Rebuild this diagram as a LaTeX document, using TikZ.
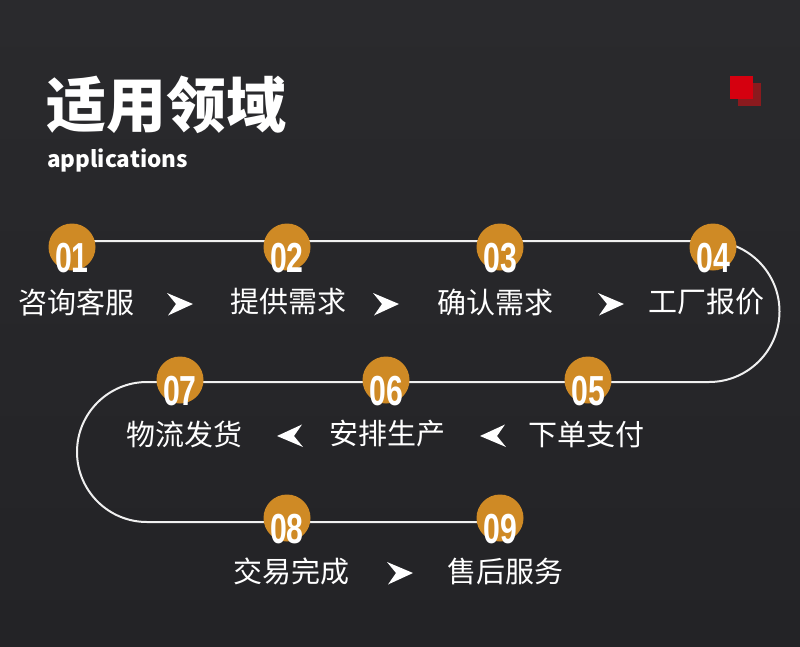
\documentclass[tikz,border=0pt]{standalone}
\usepackage{fontspec}
\newfontfamily\cjk{Noto Sans CJK SC}
\newfontfamily\numfont{Liberation Sans}[FakeStretch=0.72]
\usetikzlibrary{positioning}
\definecolor{bgtop}{HTML}{2A2A2D}
\definecolor{bgbot}{HTML}{232326}
\definecolor{stepgold}{HTML}{CF8A25}
\definecolor{markred}{HTML}{D5000F}
\definecolor{markdark}{HTML}{8A1A1E}
\tikzset{
  track/.style={draw=white!94!black, line width=2pt},
  dot/.style={circle, fill=stepgold, minimum size=47pt, inner sep=0pt},
  num/.style={font=\numfont\bfseries\fontsize{42}{42}\selectfont, text=white, inner sep=0pt},
  lbl/.style={font=\cjk\fontsize{29}{29}\selectfont, text=white, inner sep=0pt},
  pics/dart/.style={code={\fill[white] (13,0) -- (-13,-11) -- (-4,0) -- (-12,11.5) -- cycle;}},
}
\begin{document}
\begin{tikzpicture}[x=1pt, y=-1pt]
  \shade[top color=bgtop, bottom color=bgbot] (0,0) rectangle (800,646);
  \useasboundingbox (0,0) rectangle (800,646);
  % heading
  \node[anchor=west, inner sep=0pt, text=white, font=\cjk\bfseries\fontsize{60}{60}\selectfont] (title) at (46,105) {适用领域};
  \node[anchor=west, inner sep=0pt, text=white, font=\cjk\bfseries\fontsize{22.5}{22.5}\selectfont] (sub) at (47,160) {applications};
  \fill[markdark] (738,83) rectangle (761,106);
  \fill[markred] (730,76) rectangle (753,99);
  % track
  \coordinate (s1) at (72,241);
  \coordinate (r1) at (709,241);
  \coordinate (l2) at (147,382);
  \coordinate (e3) at (500,522);
  \draw[track] (s1) -- (r1) arc[start angle=-90, end angle=90, radius=70.5]
    -- (l2) arc[start angle=270, end angle=90, radius=70] -- (e3);
  % step dots
  \node[dot] (c1) at (72,247) {};
  \node[dot] (c2) at (287,247) {};
  \node[dot] (c3) at (500,247) {};
  \node[dot] (c4) at (713,247) {};
  \node[dot] (c5) at (588,380) {};
  \node[dot] (c6) at (386,380) {};
  \node[dot] (c7) at (180,380) {};
  \node[dot] (c8) at (287,518) {};
  \node[dot] (c9) at (500,518) {};
  \node[num] (n1) at ([yshift=-11pt]c1.center) {01};
  \node[num] (n2) at ([yshift=-11pt]c2.center) {02};
  \node[num] (n3) at ([yshift=-11pt]c3.center) {03};
  \node[num] (n4) at ([yshift=-11pt]c4.center) {04};
  \node[num] (n5) at ([yshift=-11pt]c5.center) {05};
  \node[num] (n6) at ([yshift=-11pt]c6.center) {06};
  \node[num] (n7) at ([yshift=-11pt]c7.center) {07};
  \node[num] (n8) at ([yshift=-11pt]c8.center) {08};
  \node[num] (n9) at ([yshift=-11pt]c9.center) {09};
  % step labels
  \node[lbl] (t1) at (76,302) {咨询客服};
  \node[lbl] (t2) at (288,302) {提供需求};
  \node[lbl] (t3) at (495,302) {确认需求};
  \node[lbl] (t4) at (706,302) {工厂报价};
  \node[lbl] (t5) at (586,434) {下单支付};
  \node[lbl] (t6) at (387,434) {安排生产};
  \node[lbl] (t7) at (184,434) {物流发货};
  \node[lbl] (t8) at (291,571) {交易完成};
  \node[lbl] (t9) at (505,571) {售后服务};
  \pic at (180,304) {dart};
  \pic at (386,304) {dart};
  \pic at (611,304) {dart};
  \pic[rotate=180] at (290,436) {dart};
  \pic[rotate=180] at (493,436) {dart};
  \pic at (400,573) {dart};
\end{tikzpicture}
\end{document}
